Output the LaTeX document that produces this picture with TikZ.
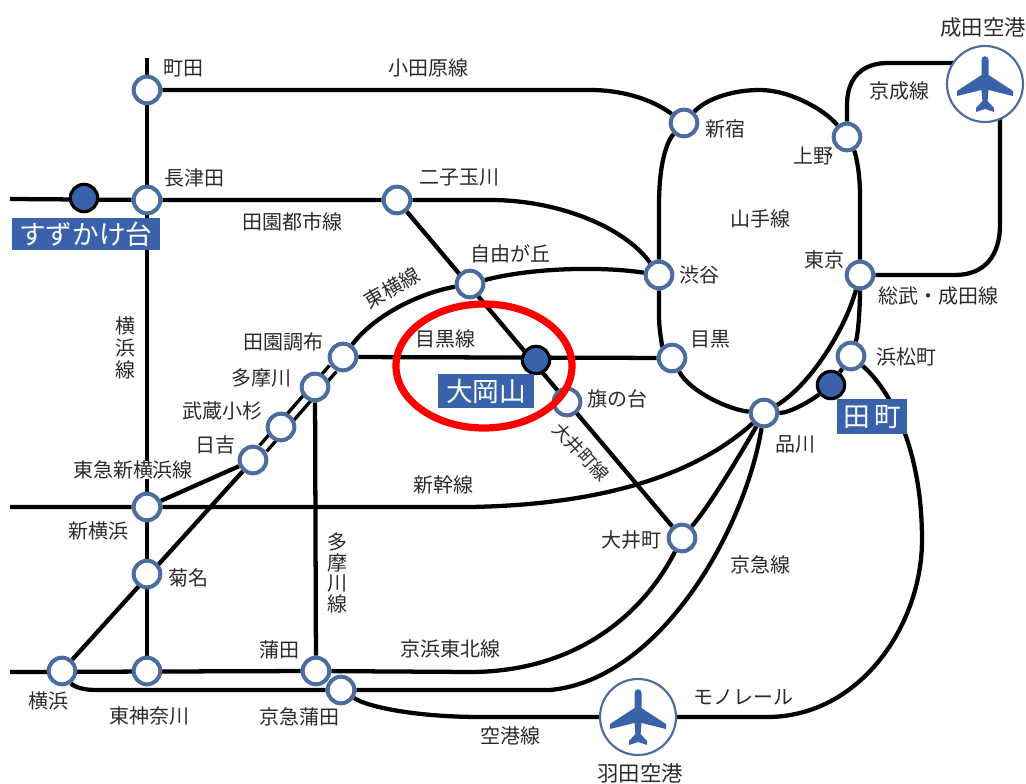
\documentclass[tikz,border=0pt]{standalone}
\usepackage{fontspec}
\setmainfont{Noto Sans CJK JP}
\usetikzlibrary{backgrounds}
\definecolor{tagblue}{HTML}{3A62AB}
\definecolor{ringblue}{HTML}{4B6C9E}
\definecolor{ink}{HTML}{2B2B2B}
\tikzset{
  stn/.style={circle,draw=ringblue,fill=white,line width=3pt,minimum size=20pt,inner sep=0pt},
  hub/.style={circle,draw=black,fill=tagblue,line width=2.4pt,minimum size=20.5pt,inner sep=0pt},
  airport/.style={circle,draw=ringblue,fill=white,line width=1.6pt,minimum size=57pt,inner sep=0pt},
  rail/.style={draw=black,line width=3.2pt},
  twin/.style={draw=black,line width=2.6pt,double=white,double distance=4.2pt},
  lbl/.style={text=ink,font=\fontsize{15}{17}\selectfont,inner sep=0pt,align=center},
  biglbl/.style={lbl,font=\fontsize{16}{18}\selectfont},
  tag/.style={fill=tagblue,text=white,font=\fontsize{20}{24}\selectfont,inner sep=0pt,anchor=center},
  planeglyph/.style={fill=tagblue,draw=none}
}
\newcommand{\planeat}[1]{%
  \begin{scope}[shift={(#1)}]
    \fill[planeglyph] (-3.5,-24) .. controls (-3.5,-29) and (3.5,-29) .. (3.5,-24)
      -- (3.5,-9) -- (28,7) -- (28,12) -- (3.5,6) -- (2.6,17) -- (9,24) -- (9,28)
      -- (0,25) -- (-9,28) -- (-9,24) -- (-2.6,17) -- (-3.5,6) -- (-28,12) -- (-28,7)
      -- (-3.5,-9) -- cycle;
  \end{scope}}
\begin{document}
\begin{tikzpicture}[x=0.75pt,y=-0.75pt]
\useasboundingbox (0,0) rectangle (1026,784);
% stations
\node[stn] (machida) at (147,90) {};
\node[stn] (nagatsuta) at (147,200) {};
\node[hub] (suzukake) at (84,198) {};
\node[stn] (futako) at (397,200) {};
\node[stn] (shinjuku) at (684,123) {};
\node[stn] (ueno) at (847,137) {};
\node[stn] (shibuya) at (659,275) {};
\node[stn] (tokyo) at (860,275) {};
\node[stn] (jiyu) at (470,284) {};
\node[stn] (denen) at (343,357) {};
\node[stn] (tamagawa) at (315,387) {};
\node[stn] (musashi) at (281,427) {};
\node[stn] (hiyoshi) at (253,460) {};
\node[hub] (ookayama) at (536,360) {};
\node[stn] (hatanodai) at (567,402) {};
\node[stn] (meguro) at (672,358) {};
\node[stn] (shinagawa) at (764,413) {};
\node[stn] (hama) at (851,356) {};
\node[hub] (tamachi) at (831,385) {};
\node[stn] (ooimachi) at (682,538) {};
\node[stn] (shinyoko) at (147,507) {};
\node[stn] (kikuna) at (147,574) {};
\node[stn] (yokohama) at (62,671) {};
\node[stn] (higashi) at (147,671) {};
\node[stn] (kamata) at (316,671) {};
\node[stn] (kkamata) at (341,690) {};
\node[airport] (narita) at (985,84) {};
\node[airport] (haneda) at (638,717) {};
\planeat{narita}
\planeat{haneda}
% free ends
\coordinate (vtop) at (147,58);
\coordinate (wden) at (10,199);
\coordinate (wshin) at (10,507);
\coordinate (wkei) at (10,672);
\begin{pgfonlayer}{background}
\fill[white] (0,0) rectangle (1026,784);
\draw[rail] (vtop) -- (higashi);
\draw[rail] (machida) -- (590,90) .. controls (620,90) and (650,98) .. (shinjuku);
\draw[rail] (wden) -- (nagatsuta) -- (futako) -- (490,200)
  .. controls (560,200) and (625,228) .. (shibuya);
\draw[rail] (futako) -- (ooimachi);
\draw[rail] (shibuya) .. controls (600,266) and (530,268) .. (jiyu)
  .. controls (415,294) and (372,318) .. (denen);
\draw[twin] (denen) -- (hiyoshi);
\draw[rail] (hiyoshi) -- (yokohama);
\draw[rail] (hiyoshi) -- (shinyoko);
\draw[rail] (denen) -- (meguro);
\draw[rail] (tamagawa) -- (kamata);
\draw[rail] (wshin) -- (shinyoko) -- (470,507) .. controls (590,505) and (690,480) .. (shinagawa);
\draw[rail] (wkei) -- (kamata) -- (470,672)
  .. controls (570,672) and (640,620) .. (ooimachi);
\draw[rail] (ooimachi) .. controls (710,505) and (740,455) .. (shinagawa);
\draw[rail] (yokohama) .. controls (72,685) and (80,690) .. (95,690) -- (kkamata) -- (550,690)
  .. controls (660,680) and (745,530) .. (shinagawa);
\draw[rail] (kkamata) .. controls (370,708) and (420,717) .. (480,717) -- (haneda);
\draw[rail] (shinjuku) .. controls (668,140) and (659,160) .. (659,205) -- (shibuya)
  -- (659,315) .. controls (659,335) and (664,350) .. (meguro)
  .. controls (690,392) and (730,410) .. (shinagawa)
  .. controls (790,413) and (812,400) .. (tamachi) -- (hama)
  .. controls (858,335) and (860,310) .. (tokyo) -- (860,195)
  .. controls (860,170) and (855,152) .. (ueno)
  .. controls (825,110) and (790,90) .. (760,90)
  .. controls (730,90) and (705,100) .. (shinjuku);
\draw[rail] (shinagawa) .. controls (810,385) and (845,330) .. (tokyo);
\draw[rail] (ueno) -- (847,105) .. controls (847,78) and (862,63) .. (888,63) -- (960,63);
\draw[rail] (1000,90) -- (1000,225) .. controls (1000,255) and (985,275) .. (955,275) -- (tokyo);
\draw[rail] (hama) .. controls (885,385) and (922,440) .. (922,540)
  .. controls (922,625) and (860,717) .. (767,717) -- (haneda);
\end{pgfonlayer}
% labels
\node[lbl] at (183,68) {町田};
\node[lbl] at (428,68) {小田原線};
\node[lbl] at (725,129) {新宿};
\node[lbl] at (899,91) {京成線};
\node[lbl] at (813,156) {上野};
\node[biglbl] at (983,27) {成田空港};
\node[lbl] at (194,178) {長津田};
\node[lbl] at (459,178) {二子玉川};
\node[lbl] at (292,222) {田園都市線};
\node[lbl] at (510,254) {自由が丘};
\node[lbl] at (760,219) {山手線};
\node[lbl] at (824,260) {東京};
\node[lbl] at (699,275) {渋谷};
\node[lbl] at (938,296) {総武・成田線};
\node[lbl,rotate=30] at (392,288) {東横線};
\node[lbl] at (283,342) {田園調布};
\node[lbl] at (445,339) {目黒線};
\node[lbl] at (710,339) {目黒};
\node[lbl] at (261,378) {多摩川};
\node[lbl] at (906,357) {浜松町};
\node[lbl] at (222,411) {武蔵小杉};
\node[lbl] at (617,399) {旗の台};
\node[lbl] at (215,445) {日吉};
\node[lbl] at (795,444) {品川};
\node[lbl,fill=white] at (133,470) {東急新横浜線};
\node[lbl] at (443,485) {新幹線};
\node[lbl] at (98,531) {新横浜};
\node[lbl] at (631,540) {大井町};
\node[lbl] at (760,565) {京急線};
\node[lbl] at (188,578) {菊名};
\node[lbl] at (279,650) {蒲田};
\node[lbl] at (450,649) {京浜東北線};
\node[lbl] at (743,697) {モノレール};
\node[lbl] at (48,701) {横浜};
\node[lbl] at (149,716) {東神奈川};
\node[lbl] at (299,717) {京急蒲田};
\node[lbl] at (510,736) {空港線};
\node[biglbl] at (640,773) {羽田空港};
\node[lbl,rotate=-47,font=\fontsize{13.5}{16}\selectfont] at (581,452) {大井町線};
\node[lbl,font=\fontsize{15}{16.5}\selectfont] at (125,348) {横\\浜\\線};
\node[lbl,font=\fontsize{15}{15.5}\selectfont] at (337,573) {多\\摩\\川\\線};
% name tags
\node[tag,minimum width=111pt,minimum height=24pt] at (86,234) {すずかけ台};
\node[tag,minimum width=72pt,minimum height=25.5pt] at (486,391) {大岡山};
\node[tag,minimum width=52.5pt,minimum height=26.25pt] at (872,417) {田\,町};
% highlight
\draw[red,line width=5.4pt] (484,366) ellipse [x radius=88,y radius=62];
\end{tikzpicture}
\end{document}
